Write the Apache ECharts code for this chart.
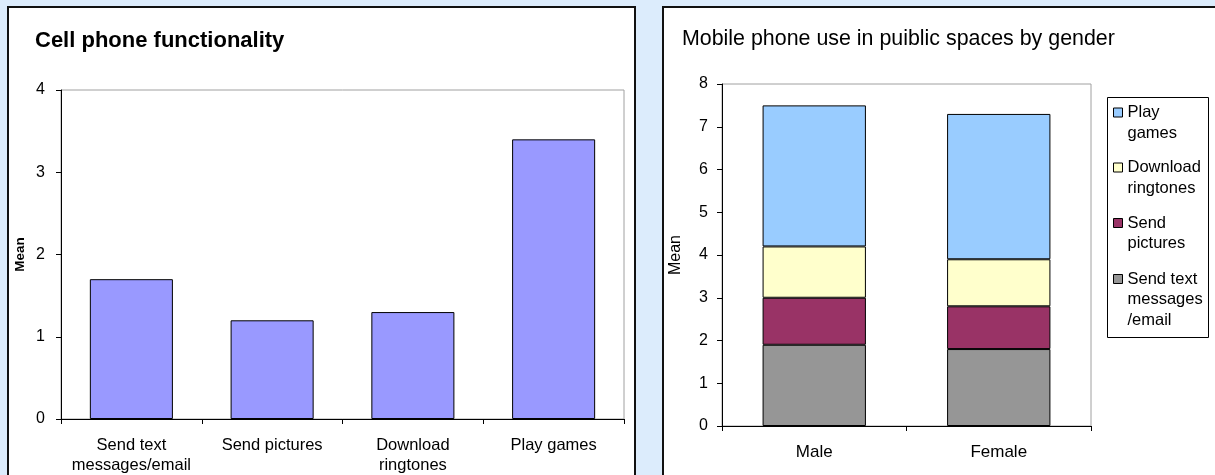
<!DOCTYPE html>
<html>
<head>
<meta charset="utf-8">
<script src="https://cdn.jsdelivr.net/npm/echarts@6/dist/echarts.min.js"></script>
<style>
  html, body { margin: 0; padding: 0; background: #dcecfc; }
  #chart { width: 1215px; height: 475px; }
</style>
</head>
<body>
<div id="chart"></div>
<script>
// Left chart: mean score per phone function
const funcCategories = ['Send text\nmessages/email', 'Send pictures', 'Download\nringtones', 'Play games'];
const funcMeans = [1.7, 1.2, 1.3, 3.4];
const funcTicks = [0, 1, 2, 3, 4];

// Right chart: stacked means by gender
const genders = ['Male', 'Female'];
const sendText = [1.9, 1.8];
const sendPictures = [1.1, 1.0];
const downloadRingtones = [1.2, 1.1];
const playGames = [3.3, 3.4];
const genderTicks = [0, 1, 2, 3, 4, 5, 6, 7, 8];

// Legend entries, top to bottom, with their wrapped labels
const legendNames = ['Play games', 'Download ringtones', 'Send pictures', 'Send text messages/email'];
const legendLabels = [['Play', 'games'], ['Download', 'ringtones'], ['Send', 'pictures'], ['Send text', 'messages', '/email']];

const FONT = 'Liberation Sans, Arial, sans-serif';
const chart = echarts.init(document.getElementById('chart'), null, { renderer: 'canvas' });

const stackSeries = [
  { name: 'Send text messages/email', data: sendText, color: '#969696' },
  { name: 'Send pictures', data: sendPictures, color: '#993366' },
  { name: 'Download ringtones', data: downloadRingtones, color: '#ffffcc' },
  { name: 'Play games', data: playGames, color: '#99ccff' }
].map(s => ({
  name: s.name,
  type: 'bar',
  stack: 'use',
  xAxisIndex: 1,
  yAxisIndex: 1,
  data: s.data,
  barWidth: '56%',
  itemStyle: { color: s.color, borderColor: '#000', borderWidth: 1 },
  emphasis: { disabled: true }
}));

// One legend block per entry so the swatch lines up with the first text line
const LH = 20.5;
const legendFirstLine = [112.5, 167.5, 223, 279];
const legends = legendNames.map((name, i) => {
  const lines = legendLabels[i];
  const blank = lines.length - 1;
  return {
    data: [name],
    orient: 'vertical',
    left: 1113,
    top: legendFirstLine[i] - (blank + 0.5) * LH,
    padding: 0,
    itemWidth: 9,
    itemHeight: 9,
    icon: 'rect',
    selectedMode: false,
    formatter: () => '\n'.repeat(blank) + lines.join('\n'),
    textStyle: { fontFamily: FONT, fontSize: 16.5, color: '#000', lineHeight: LH },
    itemStyle: { borderColor: '#000', borderWidth: 1 }
  };
});

chart.setOption({
  animation: false,
  backgroundColor: '#dcecfc',
  graphic: [
    { type: 'rect', z: -10, shape: { x: 8, y: 7, width: 627, height: 480 },
      style: { fill: '#fff', stroke: '#111', lineWidth: 2 } },
    { type: 'rect', z: -10, shape: { x: 663, y: 7, width: 560, height: 480 },
      style: { fill: '#fff', stroke: '#111', lineWidth: 2 } },
    { type: 'rect', z: 3, shape: { x: 1107.5, y: 97.5, width: 101, height: 240 },
      style: { fill: '#fff', stroke: '#000', lineWidth: 1 } }
  ],
  title: [
    { text: 'Cell phone functionality', left: 30, top: 25,
      textStyle: { fontFamily: FONT, fontSize: 22, fontWeight: 'bold', color: '#000' } },
    { text: 'Mobile phone use in puiblic spaces by gender', left: 677, top: 24,
      textStyle: { fontFamily: FONT, fontSize: 21.4, fontWeight: 'normal', color: '#000' } }
  ],
  legend: legends,
  grid: [
    { left: 61, right: 591, top: 90, bottom: 56, show: true, backgroundColor: '#fff',
      borderColor: '#a0a0a0', borderWidth: 1 },
    { left: 722, right: 124, top: 84, bottom: 49, show: true, backgroundColor: '#fff',
      borderColor: '#a0a0a0', borderWidth: 1 }
  ],
  xAxis: [
    { type: 'category', gridIndex: 0, data: funcCategories,
      axisLine: { lineStyle: { color: '#000', width: 1 } },
      axisTick: { show: true, length: 5, lineStyle: { color: '#000' } },
      axisLabel: { fontFamily: FONT, fontSize: 16.5, color: '#000', margin: 16, lineHeight: 20, interval: 0 } },
    { type: 'category', gridIndex: 1, data: genders,
      axisLine: { lineStyle: { color: '#000', width: 1 } },
      axisTick: { show: true, length: 5, lineStyle: { color: '#000' } },
      axisLabel: { fontFamily: FONT, fontSize: 17, color: '#000', margin: 16, lineHeight: 20 } }
  ],
  yAxis: [
    { type: 'value', gridIndex: 0, min: funcTicks[0], max: funcTicks[funcTicks.length - 1], interval: 1,
      name: 'Mean', nameLocation: 'middle', nameGap: 34,
      nameTextStyle: { fontFamily: FONT, fontSize: 13.5, fontWeight: 'bold', color: '#000' },
      axisLine: { show: true, lineStyle: { color: '#000', width: 1 } },
      axisTick: { show: true, length: 5, lineStyle: { color: '#000' } },
      splitLine: { show: false },
      axisLabel: { fontFamily: FONT, fontSize: 16, color: '#000', margin: 16 } },
    { type: 'value', gridIndex: 1, min: genderTicks[0], max: genderTicks[genderTicks.length - 1], interval: 1,
      name: 'Mean', nameLocation: 'middle', nameGap: 38,
      nameTextStyle: { fontFamily: FONT, fontSize: 16, color: '#000' },
      axisLine: { show: true, lineStyle: { color: '#000', width: 1 } },
      axisTick: { show: true, length: 5, lineStyle: { color: '#000' } },
      splitLine: { show: false },
      axisLabel: { fontFamily: FONT, fontSize: 16, color: '#000', margin: 14 } }
  ],
  series: [
    { name: 'Mean', type: 'bar', xAxisIndex: 0, yAxisIndex: 0, data: funcMeans,
      barWidth: '59%',
      itemStyle: { color: '#9999ff', borderColor: '#000', borderWidth: 1 },
      emphasis: { disabled: true } }
  ].concat(stackSeries)
});
</script>
</body>
</html>
